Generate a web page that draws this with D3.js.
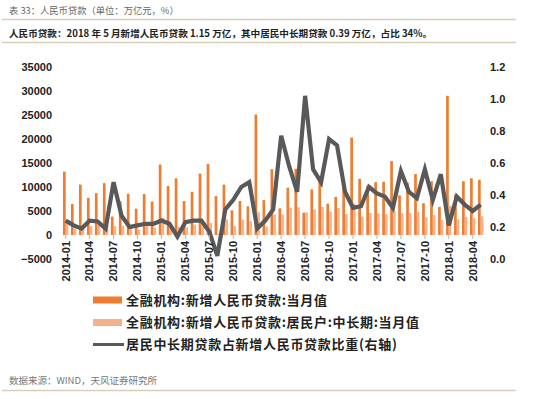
<!DOCTYPE html>
<html><head><meta charset="utf-8">
<script src="https://cdn.jsdelivr.net/npm/d3@7/dist/d3.min.js"></script>
<style>body{margin:0;background:#fff}svg{display:block}</style>
</head><body>
<svg id="c" width="550" height="399"></svg>
<script>
const months = [
"2014-01","2014-02","2014-03","2014-04","2014-05","2014-06","2014-07","2014-08","2014-09","2014-10","2014-11","2014-12",
"2015-01","2015-02","2015-03","2015-04","2015-05","2015-06","2015-07","2015-08","2015-09","2015-10","2015-11","2015-12",
"2016-01","2016-02","2016-03","2016-04","2016-05","2016-06","2016-07","2016-08","2016-09","2016-10","2016-11","2016-12",
"2017-01","2017-02","2017-03","2017-04","2017-05","2017-06","2017-07","2017-08","2017-09","2017-10","2017-11","2017-12",
"2018-01","2018-02","2018-03","2018-04","2018-05"];
// 金融机构:新增人民币贷款:当月值 (亿元)
const newLoans = [
13200,6445,10500,7747,8708,10800,3852,7025,8572,5483,8527,6973,
14700,10200,11800,7079,9008,12800,14800,8096,10500,5136,7089,5978,
25100,7266,13700,5556,9855,13800,4636,9487,12200,6513,7946,10400,
20300,11700,10200,11000,11100,15400,8255,10900,12700,6632,11200,5844,
29000,8393,11200,11800,11500];
// 金融机构:新增人民币贷款:居民户:中长期:当月值 (亿元)
const householdMLT = [
3170,1350,2000,1860,2050,2050,1850,1900,1710,1150,1880,1530,
3530,2240,1650,1630,2160,3070,2520,200,3260,1900,3190,2870,
4770,1740,4250,4280,5720,5800,4730,5310,5860,4880,5640,4370,
6500,3860,4590,4510,4330,4930,4540,4580,4830,3710,4140,3100,
6090,3270,3810,3540,3900];
// 居民中长期贷款占新增人民币贷款比重 (右轴)
const ratio = [
0.24,0.21,0.19,0.24,0.235,0.19,0.48,0.27,0.20,0.21,0.22,0.22,
0.24,0.22,0.14,0.23,0.24,0.24,0.17,0.02,0.31,0.37,0.45,0.48,
0.19,0.24,0.31,0.77,0.58,0.42,1.02,0.56,0.48,0.75,0.71,0.42,
0.32,0.33,0.45,0.41,0.39,0.32,0.55,0.42,0.38,0.56,0.37,0.53,
0.21,0.39,0.34,0.30,0.34];
const leftTicks = [-5000,0,5000,10000,15000,20000,25000,30000,35000];
const rightTicks = [0,0.2,0.4,0.6,0.8,1.0,1.2];
const xTickLabels = months.filter((d,i)=>i%3===0);
const legendLabels = ["全融机构:新增人民币贷款:当月值","全融机构:新增人民币贷款:居民户:中长期:当月值","居民中长期贷款占新增人民币贷款比重(右轴)"];
const titleText = "表 33：人民币贷款（单位：万亿元，%）";
const subtitleText = "人民币贷款：2018 年 5 月新增人民币贷款 1.15 万亿，其中居民中长期贷款 0.39 万亿，占比 34%。";
const sourceText = "数据来源：WIND，天风证券研究所";

const C_DARK = "#EC7D31", C_LIGHT = "#F5B28A", C_LINE = "#595959";
const svg = d3.select("#c");
const x = d3.scaleBand().domain(months).range([61.7, 484.7]).paddingInner(0).paddingOuter(0);
const yL = d3.scaleLinear().domain([-5000,35000]).range([259,67]);
const yR = d3.scaleLinear().domain([0,1.2]).range([259,67]);
const bw = 2.7;

// header
svg.append("text").attr("x",9).attr("y",14).attr("font-family","'Noto Sans CJK SC',sans-serif")
  .attr("font-size",9.3).attr("fill","#666").text(titleText);
svg.append("line").attr("x1",2).attr("x2",516).attr("y1",19.5).attr("y2",19.5).attr("stroke","#d8d0b6").attr("stroke-width",1.5);
svg.append("text").attr("x",9).attr("y",37).attr("font-family","'Noto Sans CJK SC',sans-serif")
  .attr("font-size",9.6).attr("font-weight","bold").attr("fill","#222").text(subtitleText);
svg.append("line").attr("x1",2).attr("x2",516).attr("y1",42.5).attr("y2",42.5).attr("stroke","#d8d0b6").attr("stroke-width",1.5);

// bars
svg.append("g").selectAll("rect").data(months).join("rect")
  .attr("x",d=>x(d)+x.bandwidth()/2-bw).attr("width",bw)
  .attr("y",(d,i)=>yL(Math.max(0,newLoans[i]))).attr("height",(d,i)=>Math.abs(yL(newLoans[i])-yL(0)))
  .attr("fill",C_DARK);
svg.append("g").selectAll("rect").data(months).join("rect")
  .attr("x",d=>x(d)+x.bandwidth()/2).attr("width",bw)
  .attr("y",(d,i)=>yL(Math.max(0,householdMLT[i]))).attr("height",(d,i)=>Math.abs(yL(householdMLT[i])-yL(0)))
  .attr("fill",C_LIGHT);

// line
const line = d3.line().x((d,i)=>x(months[i])+x.bandwidth()/2).y(d=>yR(d));
svg.append("path").datum(ratio).attr("d",line).attr("fill","none").attr("stroke",C_LINE)
  .attr("stroke-width",4.2).attr("stroke-linejoin","miter");

// left axis
const gL = svg.append("g").attr("transform","translate(52,0)")
  .call(d3.axisLeft(yL).tickValues(leftTicks).tickSize(0).tickPadding(0).tickFormat(d3.format("d")));
gL.select(".domain").remove();
gL.selectAll("text").attr("font-family","Arial, 'Liberation Sans', sans-serif").attr("font-size",11).attr("font-weight","bold").attr("fill","#222");

// right axis
const gR = svg.append("g").attr("transform","translate(490,0)")
  .call(d3.axisRight(yR).tickValues(rightTicks).tickSize(0).tickPadding(0).tickFormat(d3.format(".1f")));
gR.select(".domain").remove();
gR.selectAll("text").attr("font-family","Arial, 'Liberation Sans', sans-serif").attr("font-size",11).attr("font-weight","bold").attr("fill","#222");

// x axis
const gX = svg.append("g").attr("transform",`translate(0,${yL(0)})`)
  .call(d3.axisBottom(x).tickValues(xTickLabels).tickSize(4).tickPadding(6));
gX.select(".domain").remove();
gX.selectAll(".tick line").attr("stroke","#a8b8d0");
gX.selectAll("text").attr("font-family","Arial, 'Liberation Sans', sans-serif").attr("font-size",11).attr("font-weight","bold").attr("fill","#222")
  .attr("transform","rotate(-90)").attr("text-anchor","end").attr("x",-6).attr("y",0).attr("dy","0.35em");

// legend
const lg = svg.append("g").attr("font-family","'Noto Sans CJK SC',sans-serif").attr("font-size",13).attr("font-weight","bold").attr("fill","#222");
const ly = [300,322.5,344.5];
lg.append("rect").attr("x",93).attr("y",ly[0]-3.5).attr("width",29).attr("height",7).attr("fill",C_DARK);
lg.append("rect").attr("x",93).attr("y",ly[1]-3.5).attr("width",29).attr("height",7).attr("fill",C_LIGHT);
lg.append("line").attr("x1",93).attr("x2",124).attr("y1",ly[2]).attr("y2",ly[2]).attr("stroke",C_LINE).attr("stroke-width",3);
legendLabels.forEach((t,i)=>{
  lg.append("text").attr("x",126).attr("y",ly[i]).attr("dy","0.36em").attr("letter-spacing","0.7px").text(t);
});

// source
svg.append("text").attr("x",9).attr("y",384).attr("font-family","'Noto Sans CJK SC',sans-serif")
  .attr("font-size",9.5).attr("fill","#777").text(sourceText);
svg.append("line").attr("x1",2).attr("x2",516).attr("y1",390.5).attr("y2",390.5).attr("stroke","#d8d0b6").attr("stroke-width",1.5);
</script>
</body></html>
